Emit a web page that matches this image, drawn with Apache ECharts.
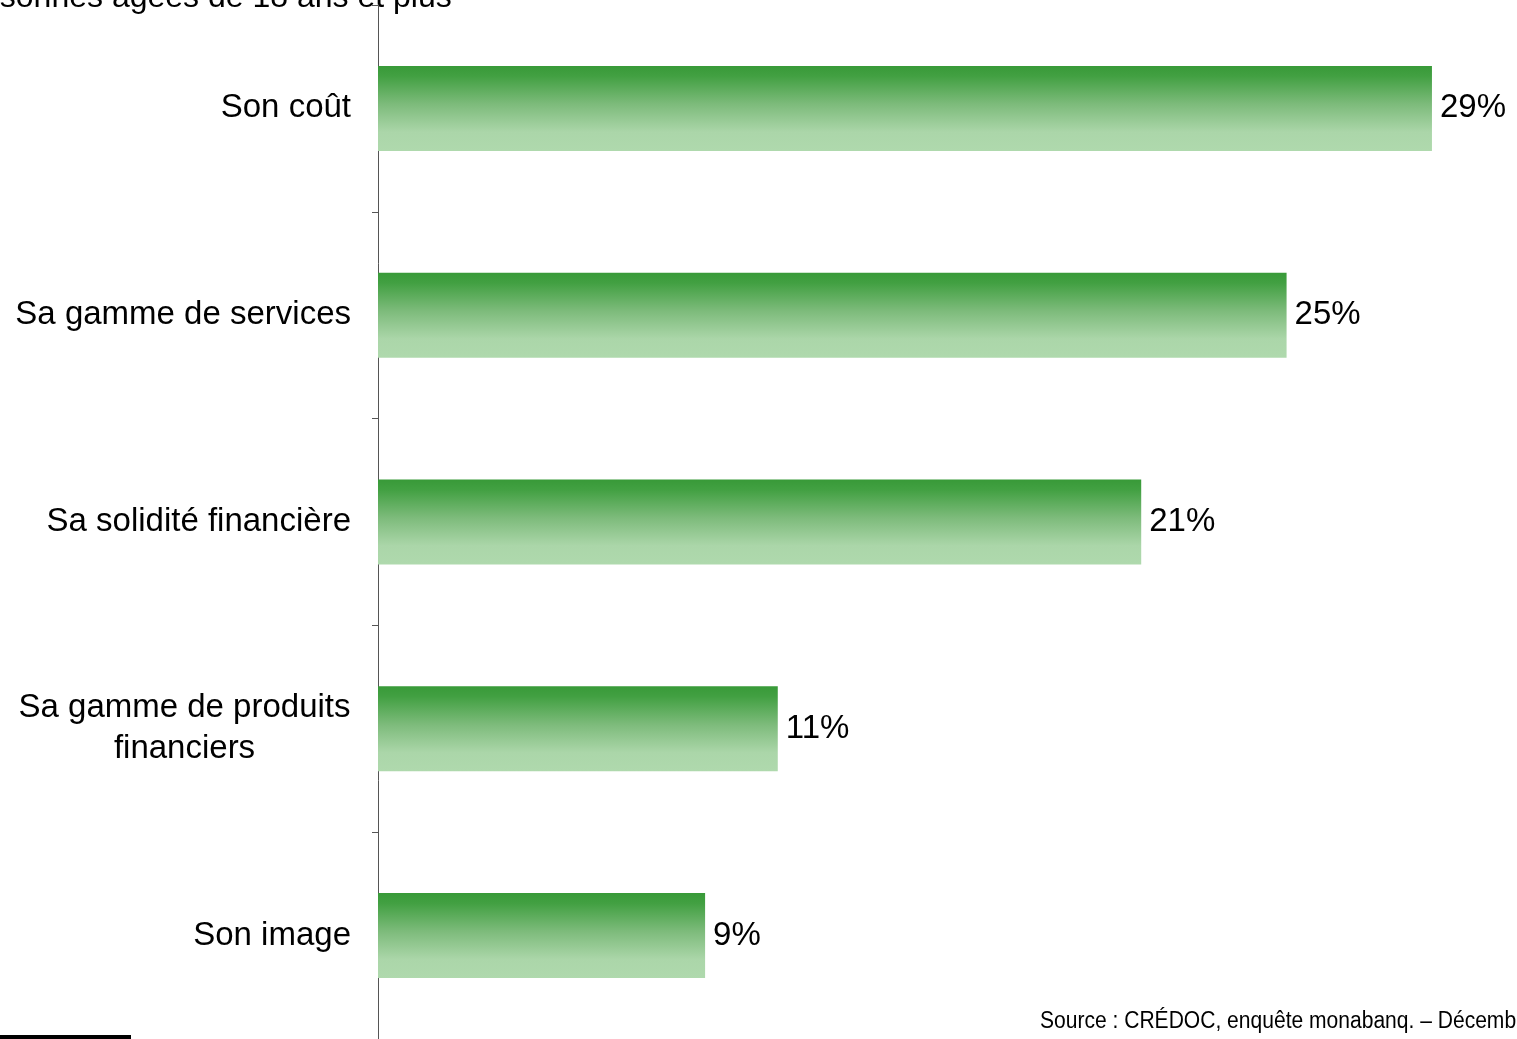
<!DOCTYPE html>
<html>
<head>
<meta charset="utf-8">
<script src="https://cdn.jsdelivr.net/npm/echarts@6/dist/echarts.min.js"></script>
<style>
  html, body { margin: 0; padding: 0; background: #ffffff; }
  #chart { width: 1517px; height: 1039px; }
</style>
</head>
<body>
<div id="chart"></div>
<script>
// Critères de choix d'une banque
const categories = [
  'Son coût',
  'Sa gamme de services',
  'Sa solidité financière',
  'Sa gamme de produits\nfinanciers',
  'Son image'
];
const values = [29, 25, 21, 11, 9];
const subtitle = 'Personnes âgées de 18 ans et plus';
const sourceText = 'Source : CRÉDOC, enquête monabanq. – Décembre';

const FONT = '"Liberation Sans", Arial, sans-serif';
const LABEL_SIZE = 33;

// Width of the widest line of a label, so multi-line labels are centred as a block
const measureCtx = document.createElement('canvas').getContext('2d');
measureCtx.font = LABEL_SIZE + 'px ' + FONT;
function blockWidth(text) {
  return Math.max(...text.split('\n').map(l => measureCtx.measureText(l).width));
}
const multiLineWidth = Math.ceil(Math.max(...categories.filter(c => c.indexOf('\n') >= 0).map(blockWidth)));

const chart = echarts.init(document.getElementById('chart'), null, { renderer: 'canvas' });

const barGradient = new echarts.graphic.LinearGradient(0, 0, 0, 1, [
  { offset: 0, color: '#389a38' },
  { offset: 0.12, color: '#42a042' },
  { offset: 0.45, color: '#7dbb7b' },
  { offset: 0.78, color: '#abd6a9' },
  { offset: 1, color: '#afd9ad' }
]);

chart.setOption({
  backgroundColor: '#ffffff',
  animation: false,
  grid: { left: 378, top: 5, width: 1090.3, height: 1037, containLabel: false },
  xAxis: {
    type: 'value',
    min: 0,
    max: 30,
    show: false
  },
  yAxis: {
    type: 'category',
    data: categories,
    inverse: true,
    axisLine: { show: true, lineStyle: { color: '#555555', width: 1 } },
    axisTick: { show: true, inside: false, length: 6, lineStyle: { color: '#555555' } },
    splitLine: { show: false },
    axisLabel: {
      margin: 27,
      align: 'right',
      color: '#000000',
      fontFamily: FONT,
      fontSize: LABEL_SIZE,
      lineHeight: 41,
      formatter: function (val) {
        if (val.indexOf('\n') < 0) return val;
        return val.split('\n').map(l => '{c|' + l + '}').join('\n');
      },
      rich: {
        c: {
          width: multiLineWidth,
          align: 'center',
          color: '#000000',
          fontFamily: FONT,
          fontSize: LABEL_SIZE,
          lineHeight: 41
        }
      }
    }
  },
  series: [{
    type: 'bar',
    data: values,
    barWidth: 85,
    itemStyle: { color: barGradient },
    label: {
      show: true,
      position: 'right',
      distance: 8,
      formatter: '{c}%',
      color: '#000000',
      fontFamily: FONT,
      fontSize: LABEL_SIZE
    }
  }],
  graphic: [
    {
      type: 'text',
      x: -50,
      y: -18,
      style: {
        text: subtitle,
        fill: '#000000',
        font: '32px ' + FONT
      }
    },
    {
      type: 'text',
      x: 1040,
      y: 1010,
      scaleX: 0.915,
      style: {
        text: sourceText,
        fill: '#000000',
        font: '23px ' + FONT
      }
    },
    {
      type: 'rect',
      x: 0,
      y: 1035,
      shape: { width: 131, height: 4 },
      style: { fill: '#000000' }
    }
  ]
});
</script>
</body>
</html>
